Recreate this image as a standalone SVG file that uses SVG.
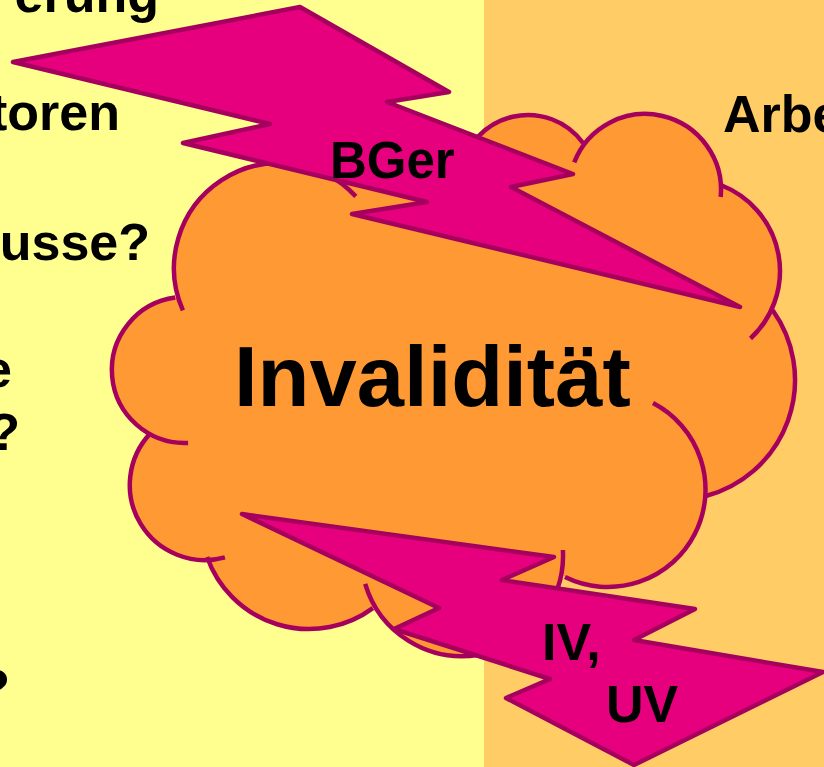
<svg xmlns="http://www.w3.org/2000/svg" width="824" height="767" viewBox="0 0 824 767">
<style>
.t{font-family:"Liberation Sans",Arial,sans-serif;font-weight:bold;fill:#000}
.cf{fill:#FF9933;stroke:none}
.co{fill:none;stroke:#A6005F;stroke-width:4.5;stroke-linecap:butt}
.bolt{fill:#E6007E;stroke:#A6005F;stroke-width:4.5;stroke-linejoin:round}
</style>
<rect x="0" y="0" width="484" height="767" fill="#FFFF8F"/>
<rect x="484" y="0" width="340" height="767" fill="#FFCC66"/>
<g id="side-texts" class="t" font-size="52">
<text x="159" y="12" text-anchor="end">erung</text>
<text x="120" y="130" text-anchor="end">toren</text>
<text x="150" y="260" text-anchor="end">usse?</text>
<text x="12" y="387" text-anchor="end">e</text>
<text x="20" y="450" text-anchor="end">?</text>
<text x="10" y="706" text-anchor="end">?</text>
<text x="723" y="132">Arbe</text>
</g>
<g id="cloud">
<g class="cf">
<circle cx="279" cy="268" r="105"/>
<circle cx="185" cy="370" r="73"/>
<circle cx="205" cy="485" r="75"/>
<circle cx="309" cy="521" r="108"/>
<circle cx="462" cy="555" r="101"/>
<circle cx="609" cy="490" r="97.5"/>
<circle cx="675" cy="380" r="120"/>
<circle cx="688" cy="271" r="92"/>
<circle cx="645" cy="190" r="76"/>
<circle cx="528" cy="183" r="68"/>
<circle cx="390" cy="225" r="72"/>
<polygon points="279,268 185,370 205,485 309,521 462,555 609,490 675,380 688,271 645,190 528,183 390,225"/>
</g>
<g class="co">
<path d="M355.8,196.4 A105,105 0 0 0 182.9,310.3"/>
<path d="M175.3,297.6 A73,73 0 0 0 188.1,442.9"/>
<path d="M150.4,433.4 A75,75 0 0 0 224.9,557.3"/>
<path d="M207.1,556.9 A108,108 0 0 0 372.9,608.1"/>
<path d="M365.2,583.9 A101,101 0 0 0 562.9,550"/>
<path d="M565,577 A97.5,97.5 0 0 0 653,403"/>
<path d="M705.8,496 A120,120 0 0 0 772.7,310.3"/>
<path d="M750.5,338.5 A92,92 0 0 0 721.9,185.5"/>
<path d="M720.7,197 A76,76 0 0 0 574.2,162.4"/>
<path d="M583,143 A68,68 0 0 0 461,171.2"/>
</g>
<text class="t" x="234" y="406" font-size="85">Invalidität</text>
</g>
<g id="bolt-bger">
<polygon class="bolt" points="13,62 300,7 449,92 387,102 573,174 511,187 740,307 352,214 427,202 183,143 270,124"/>
<text class="t" x="330" y="178" font-size="51">BGer</text>
</g>
<g id="bolt-iv-uv">
<polygon class="bolt" points="242,514 554,557 502,580 695,609 634,640 823,672 634,765 506,698 550,679 394,629 439,608"/>
<text class="t" x="542" y="660" font-size="52">IV,</text>
<text class="t" x="606" y="722" font-size="52">UV</text>
</g>
</svg>
